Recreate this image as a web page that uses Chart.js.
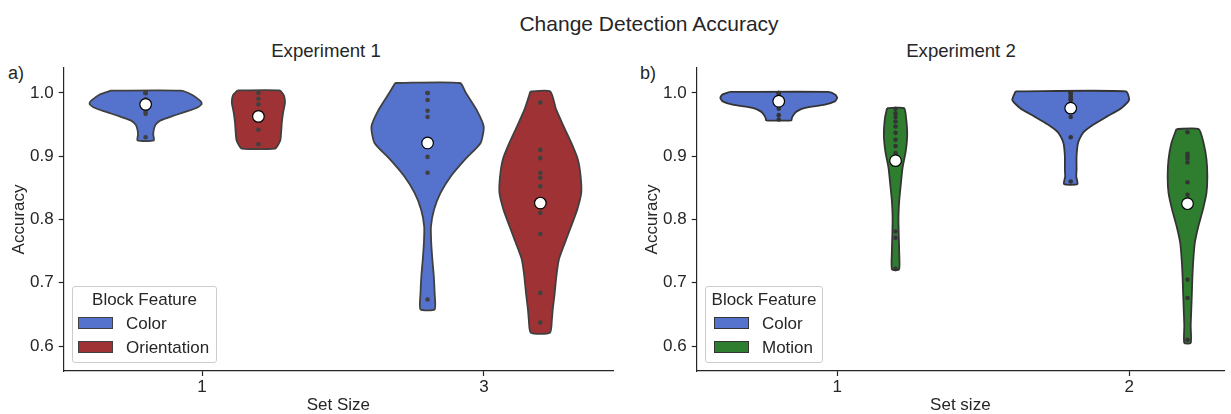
<!DOCTYPE html>
<html>
<head>
<meta charset="utf-8">
<title>Change Detection Accuracy</title>
<script src="https://cdn.jsdelivr.net/npm/chart.js@4.4.1/dist/chart.umd.min.js"></script>
<style>
  html, body { margin: 0; padding: 0; background: #fff; }
  body {
    position: relative; width: 1231px; height: 414px; overflow: hidden;
    font-family: "Liberation Sans", Arial, sans-serif; color: #262626;
  }
  canvas { position: absolute; top: 0; }
  .txt { position: absolute; white-space: nowrap; text-align: center; }
  .legend {
    position: absolute; box-sizing: border-box; background: rgba(255,255,255,0.8);
    border: 1px solid #cccccc; border-radius: 3px; font-size: 17px; line-height: 17px;
  }
  .legend .lg-title { position: absolute; left: 0; width: 100%; text-align: center; }
  .legend .lg-patch { position: absolute; box-sizing: border-box; width: 35px; height: 12px; }
  .legend .lg-label { position: absolute; white-space: nowrap; }
</style>
</head>
<body>
<div class="txt" style="left:449px;width:400px;top:13px;font-size:21px;line-height:21px">Change Detection Accuracy</div>
<div class="txt" style="left:126px;width:400px;top:42px;font-size:18.6px;line-height:18.6px">Experiment 1</div>
<div class="txt" style="left:761px;width:400px;top:42px;font-size:18.6px;line-height:18.6px">Experiment 2</div>
<div class="txt" style="left:8px;top:64px;font-size:18px;line-height:18px;text-align:left">a)</div>
<div class="txt" style="left:640px;top:64px;font-size:18px;line-height:18px;text-align:left">b)</div>

<canvas id="chartA" width="633" height="414" style="left:0"></canvas>
<canvas id="chartB" width="598" height="414" style="left:633px"></canvas>

<script>
'use strict';

/* --------------------------------------------------------------------------
   Data. Accuracy per participant (grey dots), group
   means (white markers) and the violin outlines: accuracy levels from top
   to bottom with the half width of the density at that level, in
   category units of the x axis.
   -------------------------------------------------------------------------- */

const yTicks = [0.6, 0.7, 0.8, 0.9, 1.0];
const e1SetSizes = ['1', '3'];
const e2SetSizes = ['1', '2'];
const e1Features = ['Color', 'Orientation'];
const e2Features = ['Color', 'Motion'];

// Experiment 1 - participants
const e1ColorS1 = [1.0, 1.0, 1.0, 1.0, 0.99, 0.98, 0.98, 0.97, 0.967, 0.93];
const e1OrientS1 = [1.0, 0.991, 0.982, 0.97, 0.965, 0.96, 0.942, 0.919];
const e1ColorS3 = [1.0, 1.0, 0.989, 0.972, 0.962, 0.925, 0.899, 0.874, 0.6735];
const e1OrientS3 = [0.985, 0.91, 0.897, 0.874, 0.866, 0.8525, 0.8105, 0.777, 0.684, 0.637];
const e1ColorMeans = [0.982, 0.921];
const e1OrientMeans = [0.963, 0.826];

// Experiment 2 - participants
const e2ColorS1 = [1.0, 1.0, 1.0, 0.995, 0.99, 0.99, 0.985, 0.975, 0.965, 0.958];
const e2MotionS1 = [0.975, 0.968, 0.962, 0.955, 0.947, 0.937, 0.926, 0.916, 0.905, 0.781, 0.771, 0.722];
const e2ColorS2 = [1.0, 1.0, 1.0, 1.0, 0.995, 0.99, 0.99, 0.985, 0.962, 0.93, 0.86];
const e2MotionS2 = [0.938, 0.904, 0.9, 0.896, 0.89, 0.859, 0.839, 0.705, 0.676, 0.61];
const e2ColorMeans = [0.987, 0.976];
const e2MotionMeans = [0.893, 0.825];

// Violin outlines, experiment 1
const e1ColorS1Y = [1.0036, 0.9973, 0.9878, 0.9831, 0.9779, 0.9709, 0.9641, 0.9567, 0.9499, 0.942, 0.9341, 0.925];
const e1ColorS1W = [0.123, 0.164, 0.193, 0.199, 0.187, 0.146, 0.099, 0.053, 0.035, 0.029, 0.027, 0.029];
const e1OrientS1Y = [1.004, 0.998, 0.992, 0.984, 0.97, 0.953, 0.94, 0.926, 0.918, 0.912];
const e1OrientS1W = [0.074, 0.088, 0.093, 0.094, 0.088, 0.083, 0.081, 0.078, 0.070, 0.059];
const e1ColorS3Y = [1.0158, 1.0, 0.974, 0.947, 0.921, 0.895, 0.868, 0.842, 0.816, 0.789, 0.763, 0.737, 0.711, 0.684, 0.658];
const e1ColorS3W = [0.115, 0.136, 0.173, 0.199, 0.188, 0.133, 0.082, 0.046, 0.023, 0.012, 0.013, 0.017, 0.022, 0.025, 0.025];
const e1OrientS3Y = [1.0025, 0.974, 0.947, 0.921, 0.895, 0.868, 0.842, 0.816, 0.789, 0.763, 0.737, 0.711, 0.684, 0.658, 0.642, 0.621];
const e1OrientS3W = [0.035, 0.056, 0.083, 0.110, 0.133, 0.143, 0.145, 0.131, 0.109, 0.087, 0.066, 0.057, 0.051, 0.044, 0.041, 0.034];

// Violin outlines, experiment 2
const e2ColorS1Y = [1.0016, 0.9973, 0.9921, 0.9867, 0.9815, 0.9763, 0.9709, 0.9657, 0.9605, 0.9567];
const e2ColorS1W = [0.169, 0.194, 0.200, 0.192, 0.158, 0.090, 0.062, 0.051, 0.045, 0.043];
const e2MotionS1Y = [0.976, 0.961, 0.934, 0.908, 0.8815, 0.855, 0.829, 0.8025, 0.776, 0.75, 0.721];
const e2MotionS1W = [0.029, 0.036, 0.040, 0.035, 0.024, 0.018, 0.0125, 0.010, 0.011, 0.0125, 0.012];
const e2ColorS2Y = [1.0025, 0.989, 0.976, 0.963, 0.95, 0.937, 0.921, 0.9, 0.879, 0.868, 0.856];
const e2ColorS2W = [0.189, 0.200, 0.173, 0.125, 0.078, 0.042, 0.025, 0.020, 0.020, 0.019, 0.023];
const e2MotionS2Y = [0.943, 0.921, 0.895, 0.868, 0.842, 0.816, 0.789, 0.763, 0.737, 0.711, 0.684, 0.658, 0.632, 0.605];
const e2MotionS2W = [0.038, 0.055, 0.065, 0.068, 0.065, 0.053, 0.037, 0.025, 0.020, 0.017, 0.015, 0.013, 0.011, 0.011];

// ---- styling ---------------------------------------------------------------
const BLUE = '#5573cd';
const RED = '#9f3234';
const GREEN = '#2f7e2f';
const INK = '#262626';

Chart.defaults.font.family = "'Liberation Sans', Arial, sans-serif";
Chart.defaults.color = INK;

// closed polygon: down the left edge, back up the right edge
function outline(center, ys, ws) {
  const left = ys.map((y, i) => ({ x: center - ws[i], y }));
  const right = ys.map((y, i) => ({ x: center + ws[i], y })).reverse();
  return left.concat(right, [left[0]]);
}

const panels = [
  {
    canvas: 'chartA', gray: '#404040', sizes: e1SetSizes, xTitle: 'Set Size',
    xMin: -0.4906, xMax: 1.4577, padRight: 20,
    features: e1Features, colors: [BLUE, RED],
    legend: { left: 72, top: 286, width: 145, height: 77, patchX: 5, labelX: 53 },
    violins: [
      { pos: -0.2, color: BLUE, ys: e1ColorS1Y, ws: e1ColorS1W, pts: e1ColorS1, mean: e1ColorMeans[0] },
      { pos: 0.2, color: RED, ys: e1OrientS1Y, ws: e1OrientS1W, pts: e1OrientS1, mean: e1OrientMeans[0] },
      { pos: 0.8, color: BLUE, ys: e1ColorS3Y, ws: e1ColorS3W, pts: e1ColorS3, mean: e1ColorMeans[1] },
      { pos: 1.2, color: RED, ys: e1OrientS3Y, ws: e1OrientS3W, pts: e1OrientS3, mean: e1OrientMeans[1] }
    ]
  },
  {
    canvas: 'chartB', gray: '#343434', sizes: e2SetSizes, xTitle: 'Set size',
    xMin: -0.481, xMax: 1.325, padRight: 0,
    features: e2Features, colors: [BLUE, GREEN],
    legend: { left: 705, top: 286, width: 118, height: 77, patchX: 8, labelX: 56 },
    violins: [
      { pos: -0.2, color: BLUE, ys: e2ColorS1Y, ws: e2ColorS1W, pts: e2ColorS1, mean: e2ColorMeans[0] },
      { pos: 0.2, color: GREEN, ys: e2MotionS1Y, ws: e2MotionS1W, pts: e2MotionS1, mean: e2MotionMeans[0] },
      { pos: 0.8, color: BLUE, ys: e2ColorS2Y, ws: e2ColorS2W, pts: e2ColorS2, mean: e2ColorMeans[1] },
      { pos: 1.2, color: GREEN, ys: e2MotionS2Y, ws: e2MotionS2W, pts: e2MotionS2, mean: e2MotionMeans[1] }
    ]
  }
];

function datasetsFor(p) {
  const sets = [];
  p.violins.forEach(v => {
    sets.push({
      type: 'line', data: outline(v.pos, v.ys, v.ws), fill: 'shape',
      backgroundColor: v.color, borderColor: p.gray, borderWidth: 1.8,
      tension: 0.2, pointRadius: 0, order: 2
    });
    sets.push({
      type: 'scatter', data: v.pts.map(y => ({ x: v.pos, y })),
      pointRadius: 2.3, backgroundColor: p.gray, borderWidth: 0, order: 1
    });
    sets.push({
      type: 'scatter', data: [{ x: v.pos, y: v.mean }],
      pointRadius: 5.8, backgroundColor: '#ffffff', borderColor: '#000000', borderWidth: 1.2, order: 0
    });
  });
  return sets;
}

function axisLook() {
  return {
    grid: { display: true, drawOnChartArea: false, drawTicks: true, tickLength: 5, tickWidth: 1.2, tickColor: INK },
    border: { display: true, color: INK, width: 1.2 }
  };
}

function buildLegend(p) {
  const box = document.createElement('div');
  box.className = 'legend';
  const L = p.legend;
  Object.assign(box.style, { left: L.left + 'px', top: L.top + 'px', width: L.width + 'px', height: L.height + 'px' });

  const title = document.createElement('div');
  title.className = 'lg-title';
  title.style.top = '4px';
  title.textContent = 'Block Feature';
  box.appendChild(title);

  p.features.forEach((name, i) => {
    const patch = document.createElement('span');
    patch.className = 'lg-patch';
    Object.assign(patch.style, {
      left: L.patchX + 'px', top: (30 + i * 24) + 'px',
      background: p.colors[i], border: '1px solid ' + p.gray
    });
    const label = document.createElement('span');
    label.className = 'lg-label';
    Object.assign(label.style, { left: L.labelX + 'px', top: (28 + i * 24) + 'px' });
    label.textContent = name;
    box.appendChild(patch);
    box.appendChild(label);
  });
  document.body.appendChild(box);
}

panels.forEach(p => {
  const ctx = document.getElementById(p.canvas).getContext('2d');
  new Chart(ctx, {
    type: 'scatter',
    data: { datasets: datasetsFor(p) },
    options: {
      responsive: false,
      animation: false,
      events: [],
      layout: { padding: { top: 68, right: p.padRight, left: 0, bottom: 0 } },
      plugins: { legend: { display: false }, tooltip: { enabled: false }, title: { display: false } },
      scales: {
        x: Object.assign(axisLook(), {
          type: 'linear', min: p.xMin, max: p.xMax,
          afterBuildTicks: s => { s.ticks = p.sizes.map((_, i) => ({ value: i })); },
          afterFit: s => { s.height = 43; },
          ticks: { padding: 1, font: { size: 17 }, color: INK, callback: v => p.sizes[Math.round(v)] },
          title: { display: true, text: p.xTitle, font: { size: 17, lineHeight: 1 }, color: INK, padding: 0 }
        }),
        y: Object.assign(axisLook(), {
          type: 'linear', min: 0.5605, max: 1.0395,
          afterBuildTicks: s => { s.ticks = yTicks.map(v => ({ value: v })); },
          afterFit: s => { s.width = 63.7; },
          ticks: { padding: 5, font: { size: 17 }, color: INK, callback: v => v.toFixed(1) },
          title: { display: true, text: 'Accuracy', font: { size: 17, lineHeight: 1 }, color: INK, padding: { top: 10.5, bottom: 0 } }
        })
      }
    }
  });
  buildLegend(p);
});
</script>
</body>
</html>
